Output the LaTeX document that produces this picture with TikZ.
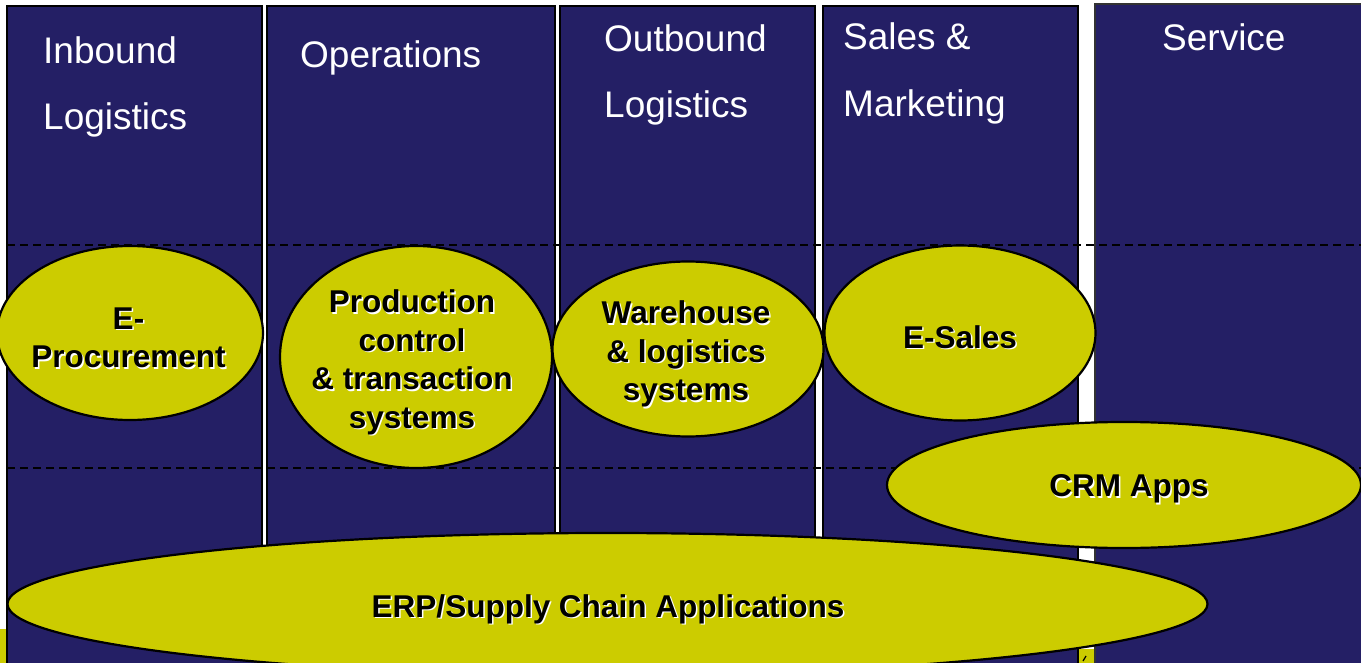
\documentclass[tikz,border=0pt]{standalone}
\usepackage{fontspec}
\setmainfont{Liberation Sans}
\usetikzlibrary{shapes.geometric}
\definecolor{navy}{RGB}{36,31,101}
\definecolor{olive}{RGB}{204,204,0}
\begin{document}
\begin{tikzpicture}[x=1pt,y=-1pt,
 col/.style={fill=navy,draw=black,line width=1.5pt},
 sep/.style={draw=black,line width=2pt,dash pattern=on 8pt off 5pt},
 oval/.style={ellipse,fill=olive,draw=black,line width=2.2pt,inner sep=0pt},
 head/.style={text=white,font=\fontsize{37}{44}\selectfont,anchor=base west,inner sep=0pt},
 lab/.style={font=\bfseries\fontsize{31.5}{38.5}\selectfont,align=center,inner sep=0pt,text=black},
 shadow/.style={lab,text=white},
]
\useasboundingbox (0,0) rectangle (1361,663);
\fill[white] (0,0) rectangle (1361,663);
\clip (0,0) rectangle (1361,663);
% hidden yellow pieces at bottom
\fill[olive] (0,629) rectangle (8,670);
\fill[olive] (1077,649) rectangle (1096,670);
\draw[black,line width=1.2pt] (1083,661) -- (1086,656);
% columns
\draw[col] (7,6) rectangle (262,700);
\draw[col] (267,6) rectangle (555,700);
\draw[col] (560,6) rectangle (815,700);
\draw[col] (823,6) rectangle (1078,700);
\draw[col,draw=black!80] (1095,4) rectangle (1380,700);
% headings
\node[head] (h1a) at (43,64) {Inbound};
\node[head] (h1b) at (43,130) {Logistics};
\node[head] (h2) at (300,68) {Operations};
\node[head] (h3a) at (604,52) {Outbound};
\node[head] (h3b) at (604,118) {Logistics};
\node[head] (h4a) at (843,50) {Sales \&};
\node[head] (h4b) at (843,117) {Marketing};
\node[head] (h5) at (1162,51) {Service};
% dashed separators
\coordinate (d1l) at (7,245); \coordinate (d1r) at (1361,245);
\coordinate (d2l) at (7,468); \coordinate (d2r) at (1361,468);
\draw[sep] (d1l) -- (d1r);
\draw[sep] (d2l) -- (d2r);
% ellipses
\node[oval,minimum width=266pt,minimum height=174pt] (e1) at (130,333) {};
\node[oval,minimum width=272pt,minimum height=222pt] (e2) at (416,357) {};
\node[oval,minimum width=271pt,minimum height=175pt] (e3) at (688,349) {};
\node[oval,minimum width=271pt,minimum height=175pt] (e4) at (960,333) {};
\node[oval,minimum width=474pt,minimum height=126pt] (e5) at (1124,485) {};
\node[oval,minimum width=1200pt,minimum height=142pt] (e6) at (607.5,604) {};
% labels with white shadow
\node[shadow] (t1s) at (130,339.5) {E-\\Procurement};
\node[lab] (t1) at (128.5,338) {E-\\Procurement};
\node[shadow] (t2s) at (413.5,364) {Production\\control\\\& transaction\\systems};
\node[lab] (t2) at (412,362.5) {Production\\control\\\& transaction\\systems};
\node[shadow] (t3s) at (687.5,355.5) {Warehouse\\\& logistics\\systems};
\node[lab] (t3) at (686,354) {Warehouse\\\& logistics\\systems};
\node[shadow] (t4s) at (961.5,338.5) {E-Sales};
\node[lab] (t4) at (960,337) {E-Sales};
\node[shadow] (t5s) at (1130.5,490.5) {CRM Apps};
\node[lab] (t5) at (1129,489) {CRM Apps};
\node[shadow] (t6s) at (609.5,610.5) {ERP/Supply Chain Applications};
\node[lab] (t6) at (608,609) {ERP/Supply Chain Applications};
\end{tikzpicture}
\end{document}
